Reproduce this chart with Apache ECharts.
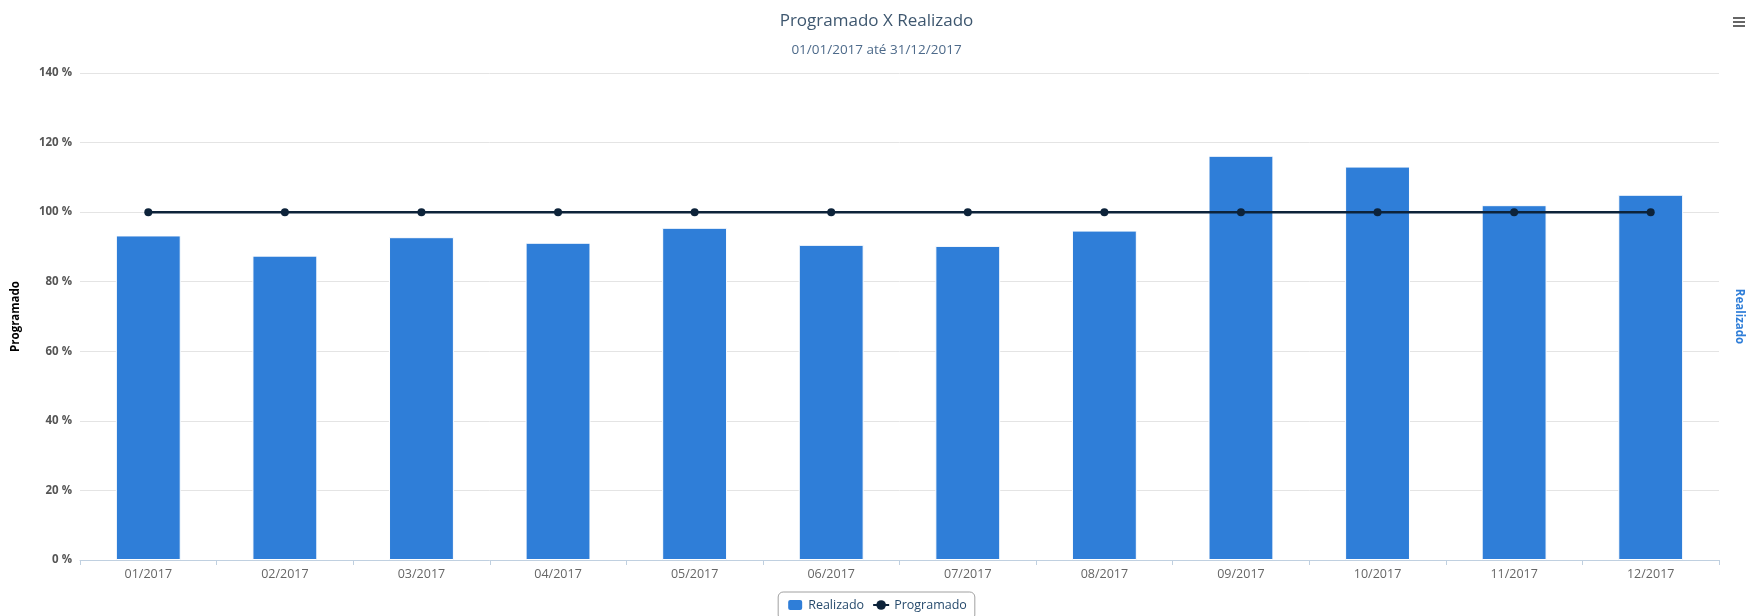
<!DOCTYPE html>
<html>
<head>
<meta charset="utf-8">
<title>Programado X Realizado</title>
<script src="https://cdn.jsdelivr.net/npm/echarts@6/dist/echarts.min.js"></script>
<style>
    html, body { margin: 0; padding: 0; background: #fff; }
    #chart { width: 1753px; height: 616px; }
</style>
</head>
<body>
<div id="chart"></div>
<script>
// Data
const months = ['01/2017', '02/2017', '03/2017', '04/2017', '05/2017', '06/2017',
    '07/2017', '08/2017', '09/2017', '10/2017', '11/2017', '12/2017'];
const realizado = [93.3, 87.5, 92.8, 91.2, 95.5, 90.6, 90.3, 94.7, 116.2, 113.1, 102.0, 105.0];
const programado = [100, 100, 100, 100, 100, 100, 100, 100, 100, 100, 100, 100];

const font = '"Open Sans", "DejaVu Sans", sans-serif';

const chart = echarts.init(document.getElementById('chart'));

chart.setOption({
    animation: false,
    textStyle: { fontFamily: font },
    title: {
        text: 'Programado X Realizado',
        subtext: '01/01/2017 até 31/12/2017',
        left: 'center',
        top: 8,
        itemGap: 13,
        textStyle: { fontFamily: font, fontSize: 17, fontWeight: 'normal', color: '#3E576F' },
        subtextStyle: { fontFamily: font, fontSize: 13.5, color: '#4d6a8a' }
    },
    legend: {
        bottom: -4,
        left: 'center',
        itemWidth: 16,
        itemHeight: 12,
        itemGap: 8,
        padding: [6, 8, 8, 8],
        borderColor: '#a0a0a0',
        borderWidth: 1,
        borderRadius: 5,
        textStyle: { fontFamily: font, fontSize: 12.5, color: '#274b6d' },
        data: ['Realizado', 'Programado']
    },
    grid: { left: 80, right: 30, top: 73, bottom: 56 },
    xAxis: {
        type: 'category',
        data: months,
        axisLine: { lineStyle: { color: '#C0D0E0' } },
        axisTick: { show: true, alignWithLabel: false, length: 5, lineStyle: { color: '#C0D0E0' } },
        axisLabel: { color: '#666', fontSize: 12.5, margin: 8 }
    },
    yAxis: [
        {
            type: 'value',
            min: 0,
            max: 140,
            interval: 20,
            name: 'Programado',
            nameLocation: 'middle',
            nameGap: 58,
            nameTextStyle: { color: '#000', fontWeight: 'bold', fontSize: 11.5 },
            axisLabel: { formatter: '{value} %', color: '#555', fontSize: 11.5, fontWeight: 'bold', margin: 8 },
            splitLine: { lineStyle: { color: '#e4e4e4', width: 1 } },
            axisLine: { show: false },
            axisTick: { show: false }
        },
        {
            type: 'value',
            min: 0,
            max: 140,
            interval: 20,
            position: 'right',
            name: 'Realizado',
            nameLocation: 'middle',
            nameGap: 14,
            nameRotate: -90,
            nameTextStyle: { color: '#2f7ed8', fontWeight: 'bold', fontSize: 11.5 },
            axisLabel: { show: false },
            splitLine: { show: false },
            axisLine: { show: false },
            axisTick: { show: false }
        }
    ],
    series: [
        {
            name: 'Realizado',
            type: 'bar',
            yAxisIndex: 1,
            data: realizado,
            barWidth: '47.5%',
            itemStyle: { color: '#2f7ed8', borderColor: '#ffffff', borderWidth: 1 }
        },
        {
            name: 'Programado',
            type: 'line',
            yAxisIndex: 0,
            data: programado,
            symbol: 'circle',
            symbolSize: 8,
            lineStyle: { color: '#0d233a', width: 2.5 },
            itemStyle: { color: '#0d233a' },
            z: 5
        }
    ],
    graphic: [
        {
            type: 'group',
            right: 8,
            top: 17,
            children: [
                { type: 'rect', shape: { x: 0, y: 0, width: 12, height: 2 }, style: { fill: '#666' } },
                { type: 'rect', shape: { x: 0, y: 4, width: 12, height: 2 }, style: { fill: '#666' } },
                { type: 'rect', shape: { x: 0, y: 8, width: 12, height: 2 }, style: { fill: '#666' } }
            ]
        }
    ]
});
</script>
</body>
</html>
